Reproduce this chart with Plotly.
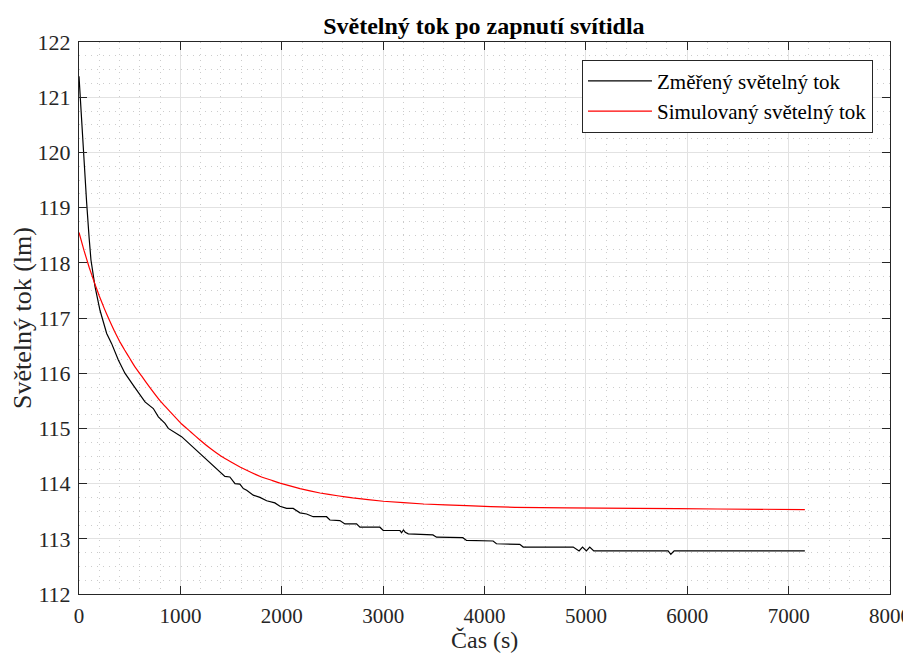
import plotly.graph_objects as go

title_text = "Světelný tok po zapnutí svítidla"
x_title = "Čas (s)"
y_title = "Světelný tok (lm)"
name_measured = "Změřený světelný tok"
name_simulated = "Simulovaný světelný tok"

measured_t = [0, 26, 50, 75, 100, 118, 158, 207, 273, 321, 388, 453, 536, 585, 651,
              733, 783, 848, 881, 1012, 1100, 1209, 1300, 1380, 1439, 1488, 1539, 1587,
              1621, 1654, 1719, 1785, 1851, 1932, 1982, 2048, 2113, 2180, 2245, 2310,
              2442, 2475, 2573, 2623, 2738, 2771, 2968, 3001, 3166, 3182, 3200, 3218,
              3248, 3491, 3527, 3786, 3823, 4085, 4118, 4348, 4382, 4875, 4933, 4967,
              5005, 5038, 5078, 5811, 5838, 5871, 7160]
measured_v = [121.38, 120.55, 119.95, 119.1, 118.45, 118.05, 117.57, 117.14, 116.72, 116.54,
              116.24, 116.0, 115.78, 115.66, 115.48, 115.36, 115.21, 115.09, 115.0, 114.85,
              114.70, 114.52, 114.37, 114.23, 114.13, 114.12, 114.0, 113.99, 113.91, 113.88,
              113.79, 113.75, 113.69, 113.65, 113.59, 113.55, 113.55, 113.47, 113.45, 113.40,
              113.40, 113.34, 113.33, 113.27, 113.27, 113.21, 113.21, 113.15, 113.15, 113.11,
              113.16, 113.12, 113.09, 113.07, 113.03, 113.02, 112.97, 112.96, 112.91, 112.90,
              112.85, 112.85, 112.78, 112.85, 112.78, 112.85, 112.78, 112.78, 112.72, 112.78,
              112.78]

simulated_t = [0, 50, 100, 150, 200, 250, 300, 350, 400, 450, 500, 550, 617, 700, 814, 900,
               1012, 1100, 1193, 1300, 1407, 1500, 1588, 1700, 1800, 1900, 1982, 2180, 2377,
               2550, 2700, 3001, 3400, 3823, 4300, 4810, 5500, 6300, 7160]
simulated_v = [118.55, 118.22, 117.92, 117.65, 117.40, 117.17, 116.96, 116.76, 116.58,
               116.42, 116.27, 116.12, 115.95, 115.74, 115.47, 115.30, 115.08, 114.94,
               114.79, 114.63, 114.49, 114.39, 114.30, 114.20, 114.12, 114.06, 114.01,
               113.91, 113.83, 113.78, 113.74, 113.68, 113.63, 113.60, 113.57, 113.56,
               113.55, 113.54, 113.53]

x_ticks = [0, 1000, 2000, 3000, 4000, 5000, 6000, 7000, 8000]
y_ticks = [112, 113, 114, 115, 116, 117, 118, 119, 120, 121, 122]

FONT = "Liberation Serif"
AX = "#262626"

fig = go.Figure()
fig.add_trace(go.Scatter(x=measured_t, y=measured_v, mode="lines", name=name_measured,
                         line=dict(color="black", width=1.2)))
fig.add_trace(go.Scatter(x=simulated_t, y=simulated_v, mode="lines", name=name_simulated,
                         line=dict(color="red", width=1.2, shape="spline", smoothing=0.3)))

axis_common = dict(
    showline=True, linecolor=AX, linewidth=1, mirror="ticks",
    ticks="inside", ticklen=8, tickcolor=AX, tickwidth=1,
    showgrid=True, gridcolor="#e2e2e2", gridwidth=1,
    zeroline=False, automargin=False, ticklabelstandoff=3,
    ticklabeloverflow="allow",
)

fig.update_xaxes(
    range=[0, 8000], tickvals=x_ticks, ticktext=[str(v) for v in x_ticks],
    tickfont=dict(family=FONT, size=21, color=AX),
    minor=dict(dtick=200, showgrid=True, gridcolor="#cccccc", griddash="1px,5px", gridwidth=1, ticks=""),
    **axis_common,
)
fig.update_yaxes(
    range=[112, 122], tickvals=y_ticks, ticktext=[str(v) for v in y_ticks],
    tickfont=dict(family=FONT, size=22, color=AX),
    minor=dict(dtick=0.25, showgrid=True, gridcolor="#cccccc", griddash="1px,5px", gridwidth=1, ticks=""),
    **axis_common,
)

# axis titles placed as annotations relative to the plot area
fig.add_annotation(text=x_title, xref="paper", yref="paper", x=0.5, y=0,
                   xanchor="center", yanchor="middle", yshift=-46, showarrow=False,
                   font=dict(family=FONT, size=24, color=AX))
fig.add_annotation(text=y_title, xref="paper", yref="paper", x=0, y=0.5,
                   xanchor="center", yanchor="middle", xshift=-57, textangle=-90, showarrow=False,
                   font=dict(family=FONT, size=26, color=AX))

# the page adds an 8px body margin, so the figure is sized to fill the rest of the window
fig.update_layout(
    width=903, height=645,
    paper_bgcolor="white", plot_bgcolor="white",
    margin=dict(l=71, r=21, t=34, b=59, autoexpand=False),
    title=dict(text="<b>" + title_text + "</b>", x=0.527, xanchor="center", y=0.972, yanchor="middle",
               font=dict(family=FONT, size=24, color="black")),
    legend=dict(x=0.979, y=0.968, xanchor="right", yanchor="top",
                bgcolor="white", bordercolor=AX, borderwidth=1,
                font=dict(family=FONT, size=21, color="black"),
                itemwidth=64, tracegroupgap=0),
    showlegend=True,
)

fig.write_html("out.html")
